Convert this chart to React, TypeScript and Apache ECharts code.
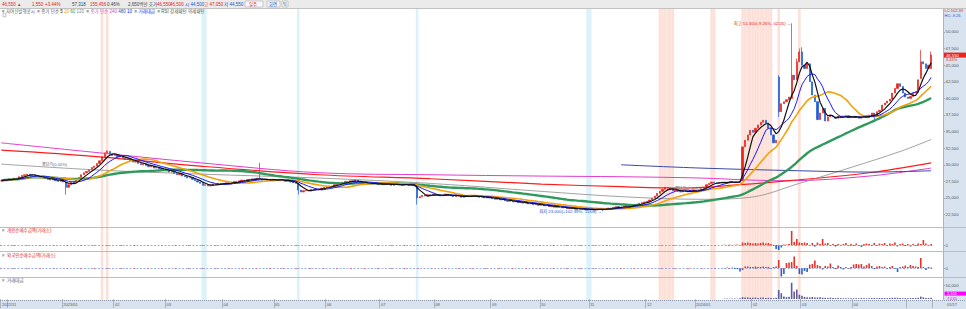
import React, { useEffect, useRef } from "react";
import * as echarts from "echarts";

const W = 966;
const H = 309;
const FONT = "'Liberation Sans', 'Noto Sans CJK KR', sans-serif";
const RED = "#e8221b";
const BLUE = "#1f5bd6";

// ---------- trading calendar ----------
const FIRST_DAY = "2022-11-28";
const LAST_DAY = "2024-05-17";
const HOLIDAYS = [
  "2022-12-30", "2023-01-23", "2023-01-24", "2023-03-01", "2023-05-01", "2023-05-05",
  "2023-05-29", "2023-06-06", "2023-08-15", "2023-09-28", "2023-09-29", "2023-10-02",
  "2023-10-03", "2023-10-09", "2023-12-25", "2023-12-29", "2024-01-01", "2024-02-09",
  "2024-02-12", "2024-03-01", "2024-04-10", "2024-05-01", "2024-05-06", "2024-05-15",
];

// ---------- price data (hundreds of won) ----------
const UNIT = 100;
const closes = [
  // 2022-11
  276, 278, 277,
  // 2022-12
  279, 278, 280, 279, 282, 284, 285, 286, 284, 285, 283, 281, 280, 281, 279, 278, 277, 279, 276, 275, 277,
  // 2023-01
  274, 266, 270, 273, 275, 278, 281, 285, 288, 290, 293, 296, 298, 302, 306, 312, 318, 320, 316, 314,
  // 2023-02
  315, 312, 313, 310, 308, 309, 306, 304, 305, 302, 300, 301, 299, 297, 298, 295, 296, 294, 292, 293,
  // 2023-03
  291, 289, 290, 287, 285, 286, 283, 282, 280, 281, 278, 276, 274, 272, 269, 270, 268, 269, 271, 270, 272, 271,
  // 2023-04
  272, 273, 271, 274, 275, 273, 276, 277, 276, 278, 277, 279, 278, 280, 279, 277, 278, 276, 277, 278,
  // 2023-05
  277, 276, 278, 277, 275, 276, 274, 273, 272, 262, 259, 261, 262, 261, 263, 262, 264, 263, 265, 266,
  // 2023-06
  267, 268, 268, 270, 271, 272, 274, 275, 274, 276, 275, 277, 274, 273, 272, 273, 271, 272, 271, 272, 270,
  // 2023-07
  271, 270, 272, 271, 269, 270, 271, 270, 269, 271, 270, 269, 270, 268, 250, 252, 254, 253, 255, 254, 256,
  // 2023-08
  254, 255, 253, 254, 256, 255, 253, 252, 254, 253, 251, 252, 253, 252, 254, 253, 252, 251, 252, 250, 251, 250,
  // 2023-09
  249, 248, 249, 247, 248, 246, 245, 246, 244, 245, 243, 244, 242, 243, 241, 242, 240, 241, 239,
  // 2023-10
  240, 238, 239, 237, 238, 236, 237, 236, 235, 236, 234, 235, 234, 233, 234, 233, 234, 232, 233,
  // 2023-11
  232, 233, 232, 234, 233, 232, 234, 235, 234, 236, 237, 236, 236, 237, 238, 237, 239, 240, 241, 242, 243, 244,
  // 2023-12
  245, 247, 250, 253, 257, 260, 263, 266, 265, 263, 261, 262, 260, 259, 261, 260, 259, 260, 262,
  // 2024-01
  261, 262, 264, 266, 270, 272, 274, 273, 272, 273, 274, 273, 274, 275, 274, 273, 274, 275, 327, 337, 345, 352,
  // 2024-02
  349, 355, 360, 364, 367, 363, 355, 345, 333, 337, 380, 392, 395, 398, 402, 435, 428, 455, 470,
  // 2024-03
  450, 445, 452, 425, 405, 395, 368, 378, 385, 366, 372, 373, 372, 370, 373, 371, 372, 374, 371, 373,
  // 2024-04
  371, 373, 370, 372, 374, 371, 375, 378, 374, 380, 382, 390, 393, 396, 399, 408, 415, 422, 418, 408, 402,
  // 2024-05
  400, 403, 408, 410, 428, 455, 452, 445, 450, 465.5,
];
const openGaps: Record<number, number> = { 287: 276, 301: 432, 306: 400, 310: 470, 356: 430, 360: 445 };
const wickHigh: Record<number, number> = { 41: 322, 100: 303, 301: 435, 306: 513, 308: 460, 309: 475, 310: 477, 356: 473, 360: 470.5 };
const wickLow: Record<number, number> = { 25: 255, 115: 255, 161: 240, 233: 230, 301: 372, 338: 364 };

// long moving averages: [day index, hundreds of won]
const ma120Pts = [[0, 301], [38, 292], [77, 286], [123, 280], [166, 272], [209, 260], [240, 252], [271, 248], [290, 251], [309, 272], [329, 296], [348, 320], [360, 338]];
const ma240Pts = [[0, 322], [38, 312], [77, 298], [123, 285], [166, 279], [209, 271], [240, 267], [265, 265], [286, 270], [305, 276], [336, 288], [360, 303]];
const ma480Pts = [[0, 333], [38, 318], [77, 303], [123, 288], [166, 285], [209, 283], [240, 282], [271, 280], [290, 277], [305, 276], [336, 283], [360, 295]];
const trendPts = [[240, 300], [271, 295], [309, 291], [336, 289], [360, 291]];

// ---------- lower panes (from day index FLOW_FROM) ----------
const FLOW_FROM = 280;
const indivNet = [
  0.3, -0.3, 0.4, -0.4, 0.3, 0.5, -0.5,
  2.5, 2, 2.5, 2, 1.5, 2, 1.5, 2, 2.5, 1.5, 2, 1,
  -1, -4, -5, -2.5, 0.5, 0.5, 1,
  14, 3, 6, 2.5, 2, 2.5, 2, -1, 2, -1.5, 2.5, 1, 6, 1.5, 2, -1, 1, -1.5, 1, -1, 1, 2, -1, 1,
  -1, 1.5, -1, -2, 1, 1.5, 1, -1, 2, -1, 1.5, 1, 2, -1, 1.5, 1, 2.5, -1.5, 1, 1.5, -1,
  1, -1.5, 1, -1, 1.5, 1, 5, 1.5, -1, 1,
];
const foreignNet = [
  -0.5, 0.5, -0.5, 0.5, -1, -1, -3.5,
  -2, 1.5, 1.5, 1, 1, 1.5, 1, 1, 1.5, 1, 1, -1,
  1, 1.5, 8, -8.5, -6, 5, 5.5,
  6, 11.5, 2, -6, -6.5, -3, -4, 3.5, 4, 7.5, 3, 2, -1.5, 2, 1.5, 4.5, 1, -1, 2.5, 1, -1.5, 1, -1, 1,
  3.5, 4, 3.5, 4, 1.5, 3, 4.5, 2, -1, 1.5, 2, 1, 1.5, -1, 1, 2, -1, -4, 1, 1.5, 2.5,
  1, 3, 2, 1.5, 1, 10, 1, -2, 1, 0.5,
];
const tradeValue = [
  1500, 1800, 1400, 1600, 1900, 1500, 2500,
  7000, 5500, 6000, 5000, 4500, 5500, 4000, 5000, 5500, 4000, 4500, 3500,
  3000, 5000, 34000, 22000, 9000, 7000, 8000,
  61000, 28000, 36000, 16000, 12000, 8000, 7000, 6000, 7500, 6000, 5500, 6500, 5000, 4500, 4000, 5000, 3500, 3000, 3500, 3000, 2500, 3000, 2500, 3000,
  2500, 3000, 2500, 3500, 3000, 2500, 3000, 3500, 4000, 3000, 3500, 4000, 3500, 3000, 4000, 4500, 5000, 4500, 3500, 3000, 3500,
  3000, 3500, 4000, 3500, 5000, 9000, 6000, 4000, 3500, 4500,
];

// highlighted day ranges [from, to]
const pinkBands = [[39, 39], [41, 41], [255, 260], [275, 276], [287, 298], [301, 301], [309, 309]];
const cyanBands = [[78, 79], [115, 115], [161, 161], [227, 228]];

const priceTicks = [22500, 25000, 27500, 30000, 32500, 35000, 37500, 40000, 42500, 45000, 47500, 50000];

function buildDates(): string[] {
  const out: string[] = [];
  const d = new Date(FIRST_DAY + "T00:00:00Z");
  const end = new Date(LAST_DAY + "T00:00:00Z");
  while (d <= end) {
    const wd = d.getUTCDay();
    const s = d.toISOString().slice(0, 10);
    if (wd !== 0 && wd !== 6 && HOLIDAYS.indexOf(s) < 0) out.push(s);
    d.setUTCDate(d.getUTCDate() + 1);
  }
  return out;
}

const fmt = (v: number) => Math.round(v).toLocaleString("en-US");

function buildOption() {
  const dates = buildDates();
  const n = dates.length;
  const cl = closes.map((c) => c * UNIT);
  const candles = cl.map((c, i) => {
    const o = (openGaps[i] !== undefined ? openGaps[i] * UNIT : i > 0 ? cl[i - 1] : c);
    const hi = Math.max(o, c, (wickHigh[i] || 0) * UNIT);
    const lo = Math.min(o, c, wickLow[i] !== undefined ? wickLow[i] * UNIT : Infinity);
    return [o, c, lo, hi];
  });
  const sma = (p: number) =>
    cl.map((_, i) => {
      const s = Math.max(0, i - p + 1);
      let sum = 0;
      for (let k = s; k <= i; k++) sum += cl[k];
      return Math.round(sum / (i - s + 1));
    });
  const pts = (a: number[][]) => a.map(([i, v]) => [i, v * UNIT]);
  const pane = (arr: number[]) => dates.map((_, i) => (i >= FLOW_FROM && i - FLOW_FROM < arr.length ? arr[i - FLOW_FROM] : null));

  let hiIdx = 0;
  let loIdx = 0;
  candles.forEach((k, i) => {
    if (k[3] > candles[hiIdx][3]) hiIdx = i;
    if (k[2] < candles[loIdx][2]) loIdx = i;
  });
  const last = cl[n - 1];
  const hiP = candles[hiIdx][3];
  const loP = candles[loIdx][2];
  const mmdd = (s: string) => s.slice(5, 7) + "/" + s.slice(8, 10);
  const hiText = `최고 ${fmt(hiP)}(${((last / hiP - 1) * 100).toFixed(2)}%, ${mmdd(dates[hiIdx])}) →`;
  const loText = `최저 ${fmt(loP)}(+${((last / loP - 1) * 100).toFixed(2)}%, ${mmdd(dates[loIdx])}) →`;

  const bandColor = (i: number) => {
    for (const [a, b] of pinkBands) if (i >= a && i <= b) return "#fde1d9";
    for (const [a, b] of cyanBands) if (i >= a && i <= b) return "#dcf2fb";
    return null;
  };
  const bandData = dates.map((_, i) => {
    const c = bandColor(i);
    return c ? { value: 1, itemStyle: { color: c } } : null;
  });

  const PLOT_W = 932.4;
  const AXIS_OFF = 943 - PLOT_W;
  const isMonthStart = (i: number) => i === 0 || dates[i].slice(0, 7) !== dates[i - 1].slice(0, 7);

  const grids = [
    { left: 0, width: PLOT_W, top: 8, height: 219 },
    { left: 0, width: PLOT_W, top: 228, height: 23 },
    { left: 0, width: PLOT_W, top: 252, height: 25 },
    { left: 0, width: PLOT_W, top: 278, height: 21 },
    { left: 0, width: PLOT_W, top: 8, height: 292 },
  ].map((g) => ({ ...g, outerBoundsMode: "none", containLabel: false }));

  const hiddenX = (gi: number) => ({
    type: "category", gridIndex: gi, data: dates, show: false, boundaryGap: true,
  });
  const rightY = (gi: number, min: number, max: number, ticks: number[]) => ({
    type: "value", gridIndex: gi, min, max, position: "right", offset: AXIS_OFF,
    axisLine: { show: false }, splitLine: { show: false },
    axisTick: { show: true, length: 2, lineStyle: { color: "#7b8696", width: 0.6 }, customValues: ticks },
    axisLabel: {
      customValues: ticks, formatter: (v: number) => fmt(v), fontSize: 4.3, color: "#555",
      margin: 2.5, fontFamily: FONT,
    },
  });

  const xAxes = [
    hiddenX(0), hiddenX(1), hiddenX(2),
    {
      type: "category", gridIndex: 3, data: dates, boundaryGap: true,
      axisLine: { show: false },
      axisTick: { show: true, length: 9, interval: (i: number) => isMonthStart(i), lineStyle: { color: "#8894a6", width: 0.6 } },
      axisLabel: {
        interval: (i: number) => i > 0 && isMonthStart(i), showMaxLabel: false, showMinLabel: false,
        formatter: (v: string) => (v.slice(5, 7) === "01" ? v.slice(0, 4) + "/" + v.slice(5, 7) : v.slice(5, 7)),
        align: "left", fontSize: 4, color: "#555", margin: 3.5, fontFamily: FONT,
      },
    },
    hiddenX(4),
  ];
  const yAxes = [
    rightY(0, 20630, 53610, priceTicks),
    rightY(1, -6, 17, [0]),
    rightY(2, -9, 16, [0]),
    rightY(3, 0, 79000, [50000]),
    { type: "value", gridIndex: 4, min: 0, max: 1, show: false },
  ];

  const line = (name: string, data: any[], color: string, width: number, smooth = false) => ({
    name, type: "line", xAxisIndex: 0, yAxisIndex: 0, data, showSymbol: false, symbol: "none",
    smooth: smooth ? 0.35 : false, lineStyle: { color, width }, silent: true, z: 3,
  });
  const zeroLine = {
    silent: true, symbol: ["none", "none"], label: { show: false },
    data: [
      { yAxis: 0, lineStyle: { color: "#7d9be3", width: 0.8, type: [2, 1.5] } },
      { yAxis: 0, lineStyle: { color: "#e06060", width: 0.8, type: [1.5, 12], dashOffset: 1 } },
    ],
  };
  const signColor = (p: any) => (p.value >= 0 ? "#e8322a" : "#2a5fd0");

  const series: any[] = [
    {
      name: "bands", type: "bar", xAxisIndex: 4, yAxisIndex: 4, data: bandData,
      barWidth: "100%", silent: true, z: 0, animation: false,
    },
    {
      name: "price", type: "candlestick", xAxisIndex: 0, yAxisIndex: 0, data: candles,
      barWidth: 1.7, z: 2,
      itemStyle: { color: RED, color0: BLUE, borderColor: RED, borderColor0: BLUE, borderWidth: 0.7 },
      markPoint: {
        symbol: "circle", symbolSize: 0.1, silent: true,
        data: [
          { coord: [dates[hiIdx], hiP], label: { show: true, position: "left", distance: 0.5, formatter: hiText, color: "#e3261f", fontSize: 4.3, fontFamily: FONT } },
          { coord: [dates[loIdx], loP], label: { show: true, position: "left", distance: 1, formatter: loText, color: "#2255cc", fontSize: 4.3, fontFamily: FONT } },
        ],
      },
    },
    line("MA480", pts(ma480Pts), "#e23ccf", 1, true),
    line("MA240", pts(ma240Pts), "#ff1c1c", 1.2, true),
    line("MA120", pts(ma120Pts), "#8a8a8a", 0.8, true),
    line("trend", pts(trendPts), "#3a48a8", 1, true),
    line("MA60", sma(60), "#2f9a5c", 2.4),
    line("MA20", sma(20), "#f2a20c", 1.6),
    line("MA10", sma(10), "#1818ff", 1),
    line("MA5", sma(5), "#111111", 1.2),
    {
      name: "개인순매수", type: "bar", xAxisIndex: 1, yAxisIndex: 1, data: pane(indivNet),
      barWidth: 1.6, itemStyle: { color: signColor }, markLine: zeroLine, z: 2,
    },
    {
      name: "외국인순매수", type: "bar", xAxisIndex: 2, yAxisIndex: 2, data: pane(foreignNet),
      barWidth: 1.6, itemStyle: { color: signColor }, markLine: zeroLine, z: 2,
    },
    {
      name: "거래대금", type: "bar", xAxisIndex: 3, yAxisIndex: 3, data: pane(tradeValue),
      barWidth: 1.6, itemStyle: { color: "#5b5b9f" }, z: 2,
    },
  ];

  const txt = (text: string, x: number, y: number, fill: string, fontSize = 4.5, extra: any = {}) => ({
    type: "text", z: 50, silent: true,
    style: { text, x, y, fill, fontSize, fontFamily: FONT, verticalAlign: "middle", align: "left", ...extra },
  });
  const hline = (y: number, stroke: string, dash?: number[]) => ({
    type: "line", z: 40, silent: true,
    shape: { x1: 0, y1: y, x2: W, y2: y }, style: { stroke, lineWidth: 1, lineDash: dash },
  });

  const toolbar = [
    ["46,550 ▲", 2, "#e3261f"], ["1,550", 32, "#e3261f"], ["+3.44%", 45, "#e3261f"],
    ["57,318", 72, "#444"], ["155,456", 90, "#e3261f"], ["0.46%", 107, "#444"],
    ["2,650백만 호가", 128, "#444"], ["46,550", 157, "#e3261f"], ["46,500", 170, "#e3261f"],
    ["시 44,500", 185, "#2255cc"], ["고 47,050", 204, "#e3261f"], ["저 44,550", 224, "#2255cc"],
  ] as [string, number, string][];

  const firstLabel = dates[0].slice(0, 4) + "/" + dates[0].slice(5, 7);

  const graphic: any[] = [
    { type: "rect", z: -1, silent: true, shape: { x: 0, y: 0, width: W, height: 8 }, style: { fill: "#ebebeb" } },
    hline(8.5, "#c2c2c2"),
    { type: "rect", z: -1, silent: true, shape: { x: 943, y: 9, width: 23, height: 291 }, style: { fill: "#d8e3ef" } },
    { type: "line", z: 40, silent: true, shape: { x1: 943.5, y1: 9, x2: 943.5, y2: 300 }, style: { stroke: "#a8b4c6", lineWidth: 1 } },
    { type: "rect", z: -1, silent: true, shape: { x: 0, y: 300, width: W, height: 9 }, style: { fill: "#d8e3ef" } },
    hline(300.5, "#8c98aa", [1, 1]),
    hline(227.5, "#bdbdbd"),
    hline(251.5, "#bdbdbd"),
    hline(277.5, "#bdbdbd"),
    ...toolbar.map(([t, x, c]) => txt(t, x, 4.2, c, 4.5)),
    { type: "rect", z: 45, silent: true, shape: { x: 245, y: 1, width: 18, height: 6 }, style: { fill: "#f7f7f7", stroke: "#b0b0b0", lineWidth: 0.6 } },
    txt("일주", 249, 4.2, "#e3261f", 4.3),
    { type: "rect", z: 45, silent: true, shape: { x: 267, y: 1, width: 13, height: 6 }, style: { fill: "#f7f7f7", stroke: "#b0b0b0", lineWidth: 0.6 } },
    txt("화면", 269, 4.2, "#2255cc", 4.3),
    { type: "rect", z: 45, silent: true, shape: { x: 282, y: 1, width: 6, height: 6 }, style: { fill: "#f7f7f7", stroke: "#b0b0b0", lineWidth: 0.6 } },
    txt("틱", 283, 4.2, "#444", 4),
    {
      type: "text", z: 50, silent: true,
      style: {
        x: 2, y: 11.6, verticalAlign: "middle", fontFamily: FONT, fontSize: 4.5,
        text: "{g|≡ 자여신발행공시  ≡ 종가 단순 }{k|5 }{o|20 }{gr|60 }{gy|120 }{g| ≡ }{p|종가 단순 240 }{n|480 }{b|10 }{g| ≡ }{b|거래대금 }{g| ≡ RSI 강세패턴 약세패턴}",
        rich: {
          g: { fill: "#555", fontSize: 4.5, fontFamily: FONT },
          k: { fill: "#111", fontSize: 4.5, fontFamily: FONT },
          o: { fill: "#f2a20c", fontSize: 4.5, fontFamily: FONT },
          gr: { fill: "#2f9a5c", fontSize: 4.5, fontFamily: FONT },
          gy: { fill: "#888", fontSize: 4.5, fontFamily: FONT },
          p: { fill: "#e23ccf", fontSize: 4.5, fontFamily: FONT },
          n: { fill: "#3a48a8", fontSize: 4.5, fontFamily: FONT },
          b: { fill: "#1818ff", fontSize: 4.5, fontFamily: FONT },
        },
      },
    },
    { type: "rect", z: 45, silent: true, shape: { x: 3, y: 13.8, width: 3, height: 3 }, style: { fill: "#fff", stroke: "#888", lineWidth: 0.5 } },
    txt("평단가(0.00%)", 42, 164, "#666", 4),
    txt("평단가(0.00%)", 675, 188, "#666", 4),
    txt("LC:102.39", 944.5, 10.5, "#e3261f", 4),
    txt("HC:-9.26", 944.5, 15, "#2255cc", 4),
    { type: "rect", z: 45, silent: true, shape: { x: 944, y: 52.6, width: 22, height: 5 }, style: { fill: "#e8241c" } },
    txt(fmt(last), 946, 55.1, "#fff", 4.2),
    txt("3.44%", 946, 59.6, "#e3261f", 4),
    txt("≡ ", 2, 230.8, "#777", 4.5),
    txt("개인순매수금액(거래소)", 7, 230.8, "#e3261f", 4.5),
    txt("≡ ", 2, 255, "#777", 4.5),
    txt("외국인순매수금액(거래소)", 7, 255, "#e3261f", 4.5),
    txt("≡ ", 2, 280.6, "#777", 4.5),
    txt("거래대금", 7, 280.6, "#555", 4.5),
    { type: "rect", z: 45, silent: true, shape: { x: 944.5, y: 291.6, width: 21.5, height: 4 }, style: { fill: "#ff00ff" } },
    txt("2,161", 947, 293.6, "#fff", 4),
    txt("7,635", 947, 298, "#ff00ff", 4),
    txt(firstLabel, 2, 304.6, "#555", 4),
    txt(mmdd(dates[n - 1]), 947, 304.6, "#555", 4),
  ];

  return {
    animation: false,
    textStyle: { fontFamily: FONT },
    grid: grids,
    xAxis: xAxes,
    yAxis: yAxes,
    series,
    graphic,
  };
}

export default function App() {
  const ref = useRef<HTMLDivElement>(null);
  useEffect(() => {
    if (!ref.current) return;
    const chart = echarts.init(ref.current, null, { renderer: "svg" });
    chart.setOption(buildOption() as any);
    return () => chart.dispose();
  }, []);
  return (
    <div
      ref={ref}
      style={{ position: "absolute", left: 0, top: 0, width: W, height: H, background: "#fff" }}
    />
  );
}
